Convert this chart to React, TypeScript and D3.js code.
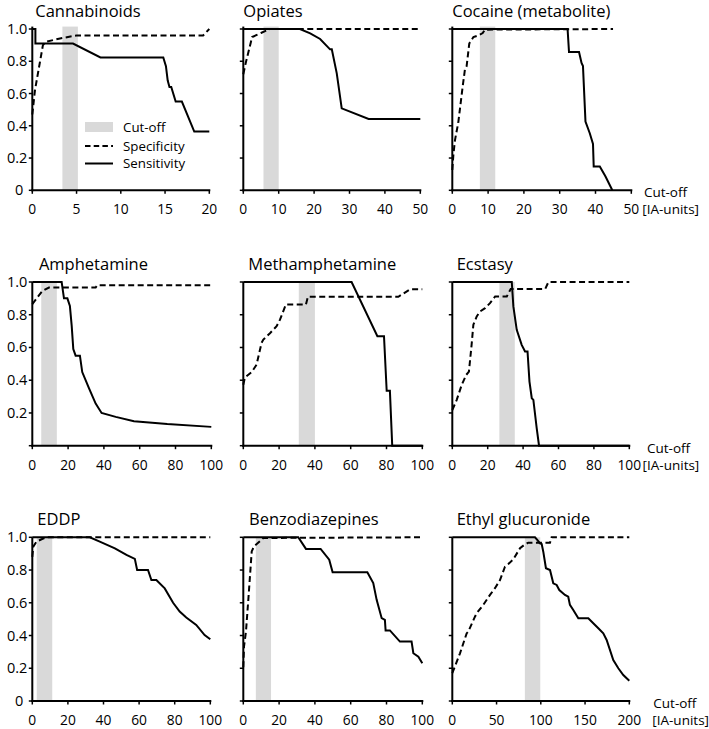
import React from "react";
import * as d3 from "d3";

type Pt = [number, number];

// ---------- data ----------
const titles = [
  "Cannabinoids", "Opiates", "Cocaine (metabolite)",
  "Amphetamine", "Methamphetamine", "Ecstasy",
  "EDDP", "Benzodiazepines", "Ethyl glucuronide",
];
const xMax = [20, 50, 50, 100, 100, 100, 100, 100, 200];
const xTickStep = [5, 10, 10, 20, 20, 20, 20, 20, 50];
const cutoffBands: Pt[] = [
  [3.4, 5.15], [5.7, 10], [7.7, 12],
  [5, 13.7], [31, 40], [26.6, 35.3],
  [2.5, 11.2], [7, 15.5], [82, 99.4],
];
const yTicks = [0, 0.2, 0.4, 0.6, 0.8, 1.0];
const yTickLabels = ["0", "0.2", "0.4", "0.6", "0.8", "1.0"];
const legendLabels = ["Cut-off", "Specificity", "Sensitivity"];
const axisUnitLabels = ["Cut-off", "[IA-units]"];

const cannabinoidsSpec: Pt[] = [[0,0.47],[0.3,0.62],[1.2,0.9],[1.5,0.92],[3,0.94],[5,0.96],[19.3,0.96],[20,1.0]];
const cannabinoidsSens: Pt[] = [[0,1],[0.35,1],[0.35,0.91],[4.6,0.91],[7.7,0.824],[14.8,0.824],[15.1,0.77],[15.3,0.68],[15.5,0.64],[15.7,0.64],[16.2,0.55],[16.9,0.55],[18.3,0.364],[20,0.364]];
const opiatesSpec: Pt[] = [[0,0.72],[0.8,0.8],[2.5,0.95],[5,0.975],[7.5,1.0],[50,1.0]];
const opiatesSens: Pt[] = [[0,1],[16,1],[18.9,0.973],[21.7,0.938],[24.5,0.874],[25,0.874],[26.4,0.725],[27.8,0.508],[35.4,0.442],[50,0.442]];
const cocaineSpec: Pt[] = [[0,0.126],[0.3,0.22],[0.74,0.31],[1.67,0.42],[2.88,0.64],[3.53,0.75],[4.0,0.77],[4.74,0.91],[5.9,0.95],[7.2,0.96],[8.5,0.975],[9.1,0.996],[44.9,1.0]];
const cocaineSens: Pt[] = [[0,1],[32.2,1],[32.6,0.857],[35.4,0.857],[36.1,0.79],[36.5,0.77],[37.2,0.426],[38.4,0.354],[39.3,0.288],[39.5,0.147],[41.2,0.147],[42.8,0.085],[44.7,0]];
const amphetamineSpec: Pt[] = [[0,0.864],[2.8,0.905],[5.6,0.945],[9.3,0.966],[35.4,0.966],[36.3,0.98],[100,0.98]];
const amphetamineSens: Pt[] = [[0,1],[16.4,1],[17.7,0.9],[19.6,0.9],[21,0.854],[22,0.733],[22.9,0.59],[24.2,0.55],[26.6,0.55],[27.9,0.45],[31.7,0.35],[35.4,0.257],[38.7,0.2],[46.6,0.176],[56.8,0.15],[75.4,0.132],[100,0.115]];
const methSpec: Pt[] = [[0,0.372],[0.9,0.417],[4.7,0.45],[7.4,0.495],[10.2,0.628],[11.2,0.648],[14.9,0.687],[18.6,0.73],[20.5,0.77],[23.8,0.863],[35,0.863],[36.1,0.91],[86.6,0.91],[93.1,0.955],[100,0.955]];
const methSens: Pt[] = [[0,1],[60.5,1],[74.9,0.669],[78.6,0.669],[80.1,0.335],[81.9,0.335],[83.2,0],[100,0]];
const ecstasySpec: Pt[] = [[0,0.218],[2.5,0.28],[5.3,0.371],[7.9,0.433],[9.4,0.453],[10.9,0.616],[11.9,0.739],[13.8,0.79],[15.7,0.82],[18.5,0.84],[21.3,0.871],[24.2,0.912],[30.8,0.912],[33,0.957],[52.5,0.957],[54.3,1.0],[100,1.0]];
const ecstasySens: Pt[] = [[0,1],[33.6,1],[34.5,0.851],[36.4,0.708],[39.2,0.616],[41.1,0.576],[42.5,0.576],[43.6,0.392],[44.9,0.29],[45.8,0.28],[47.7,0.106],[49,0],[100,0]];
const eddpSpec: Pt[] = [[0,0.88],[0.56,0.943],[2.4,0.974],[5.2,0.988],[8,1.0],[100,1.0]];
const eddpSens: Pt[] = [[0,1],[32.3,1],[37.9,0.974],[46.4,0.933],[52.9,0.892],[57.6,0.868],[58.9,0.8],[65,0.8],[66.9,0.739],[69.7,0.739],[74.4,0.688],[79.1,0.6],[82.8,0.546],[86.5,0.51],[92.1,0.465],[96.8,0.403],[100,0.377]];
const benzoSpec: Pt[] = [[0,0.206],[0.4,0.333],[1.5,0.425],[2.8,0.618],[4.7,0.914],[6,0.945],[9.3,0.976],[11.2,0.996],[100,1.0]];
const benzoSens: Pt[] = [[0,1],[30.7,1],[35,0.929],[43.2,0.929],[48,0.863],[49.9,0.786],[69.3,0.786],[72.6,0.72],[74.5,0.618],[77.3,0.506],[79.1,0.496],[79.5,0.431],[81.9,0.431],[87.5,0.363],[94,0.363],[95,0.292],[97.8,0.271],[100,0.231]];
const etgSpec: Pt[] = [[0,0.17],[8.7,0.291],[16.2,0.413],[18,0.424],[25.6,0.515],[27.5,0.536],[35,0.587],[42.6,0.648],[48.2,0.689],[53.9,0.739],[59.5,0.82],[63.3,0.837],[68.9,0.865],[76.5,0.933],[82.1,0.957],[85.9,0.967],[110.4,0.967],[112.2,1.0],[200,1.0]];
const etgSens: Pt[] = [[0,1],[93.4,1],[96,0.984],[99.1,0.963],[101,0.959],[102.8,0.912],[105.8,0.811],[110.4,0.8],[114.1,0.719],[117.9,0.709],[120.9,0.678],[127.3,0.648],[131,0.637],[132.9,0.587],[136.7,0.556],[142.4,0.505],[153.7,0.505],[159.3,0.475],[165,0.444],[170.6,0.413],[174.4,0.373],[181.9,0.25],[187.6,0.2],[193.2,0.159],[200,0.124]];

const specificity = [cannabinoidsSpec, opiatesSpec, cocaineSpec, amphetamineSpec, methSpec, ecstasySpec, eddpSpec, benzoSpec, etgSpec];
const sensitivity = [cannabinoidsSens, opiatesSens, cocaineSens, amphetamineSens, methSens, ecstasySens, eddpSens, benzoSens, etgSens];

// ---------- layout ----------
const W = 709, H = 729;
const colLeft = [32.3, 243.3, 452.3];
const panelWidth = [177, 177, 179, 179, 179, 177, 178, 179, 177];
const rowTop = [29, 282, 537.3];
const rowHeight = [161.3, 163.7, 163.7];
const titleDx = [[3, 0, 0], [6.6, 5, 4.4], [5, 5.7, 4.4]];
const unitDx = [[12.6, 11], [17.7, 13.3], [24, 23]];
const FONT = "'Open Sans', 'Noto Sans', sans-serif";
const BAND = "#d9d9d9";

function Panel({ i }: { i: number }) {
  const r = Math.floor(i / 3), c = i % 3;
  const pw = panelWidth[i];
  const x0 = colLeft[c], y0 = rowTop[r] + rowHeight[r];
  const x = d3.scaleLinear().domain([0, xMax[i]]).range([x0, x0 + pw]);
  const y = d3.scaleLinear().domain([0, 1]).range([y0, rowTop[r]]);
  const line = d3.line<Pt>().x(d => x(d[0])).y(d => y(d[1]));
  const xt = d3.range(0, xMax[i] + 1e-9, xTickStep[i]);
  const topExt = r === 0 ? y(1.015) : y(1);
  const band = cutoffBands[i];
  return (
    <g>
      <rect x={x(band[0])} y={topExt} width={x(band[1]) - x(band[0])} height={y0 - topExt} fill={BAND} />
      <path d={line(specificity[i]) || ""} fill="none" stroke="#000" strokeWidth={2} strokeDasharray="6,3.5" />
      <path d={line(sensitivity[i]) || ""} fill="none" stroke="#000" strokeWidth={2} />
      {/* axes */}
      <line x1={x0} x2={x0} y1={topExt} y2={y0 + 1} stroke="#000" strokeWidth={2} />
      <line x1={x0 - 1} x2={x0 + pw + 1} y1={y0} y2={y0} stroke="#000" strokeWidth={2} />
      {yTicks.map((t, k) => (
        <g key={"y" + k}>
          <line x1={x0 - 3.5} x2={x0} y1={y(t)} y2={y(t)} stroke="#000" strokeWidth={1.5} />
          {c === 0 && !(r === 1 && t === 0) && (
            <text x={t === 0 ? x0 - 9 : x0 - 5} y={y(t) + 5} textAnchor="end" fontSize={14.5} fontFamily={FONT} fill="#000">{yTickLabels[k]}</text>
          )}
        </g>
      ))}
      {xt.map((t, k) => (
        <g key={"x" + k}>
          <line x1={x(t)} x2={x(t)} y1={y0} y2={y0 + 3.5} stroke="#000" strokeWidth={1.5} />
          <text x={x(t)} y={y0 + 24} textAnchor="middle" fontSize={13.8} fontFamily={FONT} fill="#000">{String(t)}</text>
        </g>
      ))}
      <text x={x0 + titleDx[r][c]} y={rowTop[r] - 12.5} fontSize={16.5} fontFamily={FONT} fill="#000">{titles[i]}</text>
      {c === 2 && (
        <g>
          <text x={x0 + pw + unitDx[r][0]} y={y0 + 7} fontSize={13.5} fontFamily={FONT} fill="#000">{axisUnitLabels[0]}</text>
          <text x={x0 + pw + unitDx[r][1]} y={y0 + 24} fontSize={13.5} fontFamily={FONT} fill="#000">{axisUnitLabels[1]}</text>
        </g>
      )}
      {i === 0 && (
        <g fontFamily={FONT} fontSize={13.3} fill="#000">
          <rect x={85} y={122} width={28} height={10} fill={BAND} />
          <text x={123} y={131.5}>{legendLabels[0]}</text>
          <line x1={85} x2={113} y1={146} y2={146} stroke="#000" strokeWidth={2} strokeDasharray="5.5,3.2" />
          <text x={123} y={150.5}>{legendLabels[1]}</text>
          <line x1={85} x2={113} y1={163.5} y2={163.5} stroke="#000" strokeWidth={2} />
          <text x={123} y={168}>{legendLabels[2]}</text>
        </g>
      )}
    </g>
  );
}

export default function App() {
  return (
    <svg width={W} height={H} style={{ position: "absolute", left: 0, top: 0, background: "#fff" }}>
      <rect width={W} height={H} fill="#fff" />
      {titles.map((_, i) => <Panel key={i} i={i} />)}
    </svg>
  );
}
